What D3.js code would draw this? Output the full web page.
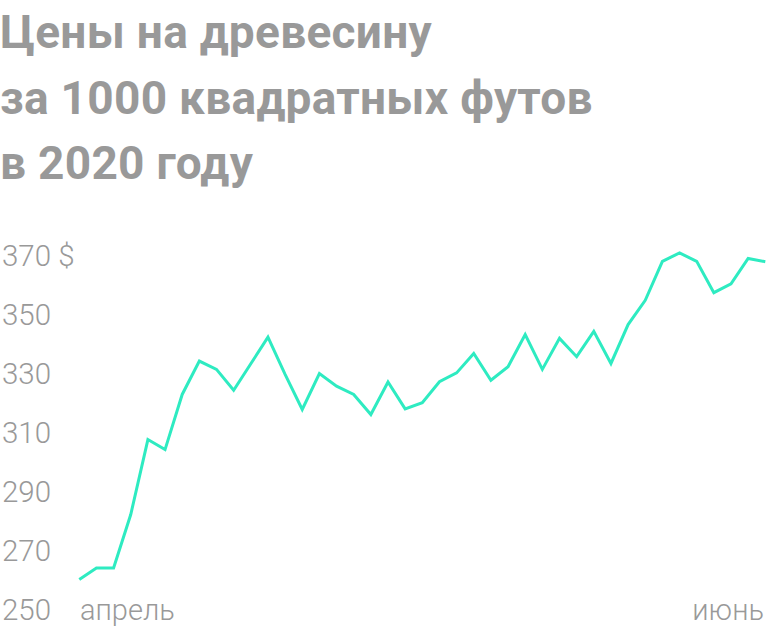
<!DOCTYPE html>
<html>
<head>
<meta charset="utf-8">
<script src="https://cdn.jsdelivr.net/npm/d3@7"></script>
<style>
  html, body { margin: 0; padding: 0; background: #fff; }
  svg { display: block; }
</style>
</head>
<body>
<script>
const titleLines = ["Цены на древесину", "за 1000 квадратных футов", "в 2020 году"];
const values = [260.2, 264.1, 264.1, 282.2, 307.6, 304.2, 322.9, 334.2, 331.4, 324.3,
  333.3, 342.3, 329.7, 317.8, 330.0, 325.7, 322.9, 316.1, 327.1, 318.0,
  320.1, 327.2, 330.2, 336.8, 327.7, 332.3, 343.2, 331.4, 341.9, 335.7,
  344.3, 333.4, 346.6, 354.8, 368.0, 370.9, 368.0, 357.4, 360.4, 369.0, 367.9];
const yTicks = [250, 270, 290, 310, 330, 350, 370];
const xLabels = ["апрель", "июнь"];
const currency = "$";

const W = 768, H = 633;
const svg = d3.select("body").append("svg").attr("width", W).attr("height", H);

const gray = "#999999";
const lineColor = "#2eebc1";

// Title
svg.append("g").selectAll("text").data(titleLines).join("text")
  .attr("x", 0)
  .attr("y", (d, i) => 48 + i * 65.5)
  .attr("font-family", "Roboto, sans-serif")
  .attr("font-weight", 700)
  .attr("font-size", 46)
  .attr("letter-spacing", 0.3)
  .attr("fill", gray)
  .text(d => d);

const x = d3.scaleLinear().domain([0, values.length - 1]).range([79.3, 765.3]);
const y = d3.scaleLinear().domain([250, 370]).range([609.5, 255.5]);

// Y axis labels
const yAxis = d3.axisLeft(y).tickValues(yTicks).tickSize(0)
  .tickFormat(d => d === 370 ? d + " " + currency : d);
const yg = svg.append("g").call(yAxis);
yg.select(".domain").remove();
yg.selectAll("text")
  .attr("x", 2)
  .attr("dy", "0.355em")
  .attr("text-anchor", "start")
  .attr("font-family", "Roboto, sans-serif")
  .attr("font-weight", 300)
  .attr("font-size", 29.5)
  .attr("fill", gray);

// X labels
const xLabelScale = d3.scalePoint().domain(xLabels).range([80, 764]);
svg.append("g").selectAll("text").data(xLabels).join("text")
  .attr("x", d => xLabelScale(d))
  .attr("y", 620)
  .attr("text-anchor", (d, i) => i === 0 ? "start" : "end")
  .attr("font-family", "Roboto, sans-serif")
  .attr("font-weight", 300)
  .attr("font-size", 29)
  .attr("fill", gray)
  .text(d => d);

// Line
const line = d3.line().x((d, i) => x(i)).y(d => y(d));
svg.append("path").datum(values)
  .attr("d", line)
  .attr("fill", "none")
  .attr("stroke", lineColor)
  .attr("stroke-width", 3)
  .attr("stroke-linejoin", "miter");
</script>
</body>
</html>
